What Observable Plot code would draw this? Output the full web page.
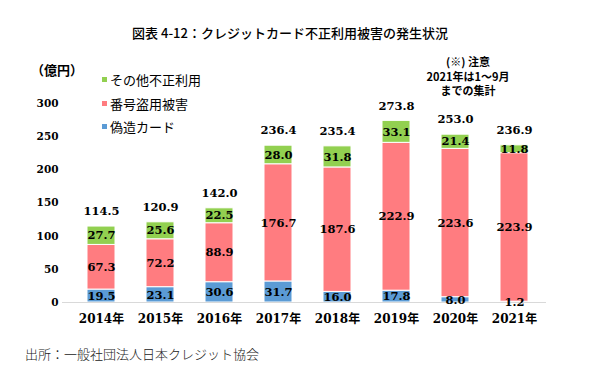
<!DOCTYPE html>
<html>
<head>
<meta charset="utf-8">
<script src="https://cdn.jsdelivr.net/npm/d3@7"></script>
<script src="https://cdn.jsdelivr.net/npm/@observablehq/plot@0.6"></script>
<style>
  body { margin: 0; background: #fff; }
  #wrap { position: relative; width: 600px; height: 372px; overflow: hidden; background: #fff; }
  #chart { position: absolute; left: 0; top: 0; }
  .abs { position: absolute; white-space: nowrap; color: #000; line-height: 1; }
  .cjk { font-family: "Noto Sans CJK JP", sans-serif; }
  #title { left: 0; width: 580px; top: 26px; text-align: center; font-size: 13px; font-weight: 500; }
  #unit { left: 31px; top: 63px; font-size: 13px; font-weight: 700; }
  #note { left: 418px; width: 100px; top: 54px; text-align: center; font-size: 11px; line-height: 14.5px; font-weight: 700; }
  #source { left: 25px; top: 347px; font-size: 13px; color: #222; font-weight: 300; }
  .leg { position: absolute; left: 102px; font-family: "Noto Sans CJK JP", sans-serif; font-size: 13px; white-space: nowrap; display: flex; align-items: center; height: 16px; }
  .leg i { display: inline-block; width: 5px; height: 5px; margin-right: 3px; }
  #chart svg text { font-family: "DejaVu Serif", "Noto Sans CJK JP", serif; }
  #chart [aria-label^="x-axis"] text { font-size: 12px; font-weight: bold; }
  #chart [aria-label^="y-axis"] text { font-size: 10.5px; font-weight: bold; }
</style>
</head>
<body>
<div id="wrap">
  <div id="chart"></div>
  <div id="title" class="abs cjk">図表 4-12：クレジットカード不正利用被害の発生状況</div>
  <div id="unit" class="abs cjk">（億円）</div>
  <div id="legend"></div>
  <div id="note" class="abs cjk">(※) 注意<br>2021年は1～9月<br>までの集計</div>
  <div id="source" class="abs cjk">出所：一般社団法人日本クレジット協会</div>
</div>
<script>
const years = ["2014年", "2015年", "2016年", "2017年", "2018年", "2019年", "2020年", "2021年"];
const types = ["偽造カード", "番号盗用被害", "その他不正利用"];
const colors = ["#5b9bd5", "#ff7c80", "#92d050"];
const counterfeit = [19.5, 23.1, 30.6, 31.7, 16.0, 17.8, 8.0, 1.2];
const numberTheft = [67.3, 72.2, 88.9, 176.7, 187.6, 222.9, 223.6, 223.9];
const otherFraud = [27.7, 25.6, 22.5, 28.0, 31.8, 33.1, 21.4, 11.8];
const totals = [114.5, 120.9, 142.0, 236.4, 235.4, 273.8, 253.0, 236.9];
const yTicks = [0, 50, 100, 150, 200, 250, 300];

const series = [counterfeit, numberTheft, otherFraud];
const rows = years.flatMap((yr, i) => types.map((t, j) => ({year: yr, type: t, value: series[j][i]})));
const totalRows = years.map((yr, i) => ({year: yr, total: totals[i]}));

const numFont = '"DejaVu Serif", "Noto Sans CJK JP", serif';

const chart = Plot.plot({
  width: 600,
  height: 372,
  marginTop: 103,
  marginBottom: 70,
  marginLeft: 69,
  marginRight: 54,
  style: {fontFamily: numFont, fontSize: "11px", color: "#000", background: "transparent"},
  x: {domain: years, paddingInner: 0.53, paddingOuter: 0.265, label: null, tickSize: 0, tickPadding: 12},
  y: {domain: [0, 300], ticks: yTicks, label: null, tickSize: 0, tickPadding: 11},
  color: {domain: types, range: colors},
  marks: [
    Plot.barY(rows, {x: "year", y: "value", fill: "type", order: types, stroke: "white", strokeWidth: 1}),
    Plot.ruleY([0], {stroke: "#d9d9d9", strokeWidth: 1, insetLeft: -7}),
    Plot.text(rows, Plot.stackY({
      x: "year", y: "value", z: "type", order: types,
      text: d => d.value.toFixed(1),
      fill: "#000", fontWeight: "bold", fontSize: 11.5, fontFamily: numFont
    })),
    Plot.text(totalRows, {
      x: "year", y: "total", text: d => d.total.toFixed(1), dy: -15,
      fill: "#000", fontWeight: "bold", fontSize: 11.5, fontFamily: numFont
    })
  ]
});
document.getElementById("chart").appendChild(chart);

const legendTop = [71, 95, 118];
const legendOrder = [2, 1, 0];
const legend = document.getElementById("legend");
legendOrder.forEach((j, k) => {
  const div = document.createElement("div");
  div.className = "leg";
  div.style.top = legendTop[k] + "px";
  const sw = document.createElement("i");
  sw.style.background = colors[j];
  div.appendChild(sw);
  div.appendChild(document.createTextNode(types[j]));
  legend.appendChild(div);
});
</script>
</body>
</html>
